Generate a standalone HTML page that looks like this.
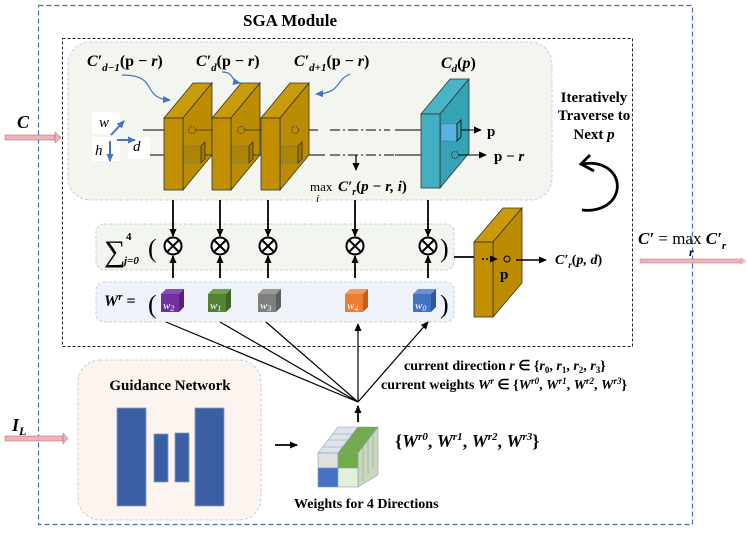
<!DOCTYPE html>
<html><head><meta charset="utf-8"><style>
body{margin:0;background:#fff}
svg text{font-family:"Liberation Serif",serif}
</style></head><body>
<svg width="747" height="530" viewBox="0 0 747 530" xmlns="http://www.w3.org/2000/svg">
<defs>
<marker id="ah" markerWidth="8" markerHeight="8" refX="7" refY="4" orient="auto" markerUnits="userSpaceOnUse"><path d="M0,0.5 L8,4 L0,7.5z" fill="#000"/></marker>
<marker id="bh" markerWidth="8" markerHeight="8" refX="7" refY="4" orient="auto" markerUnits="userSpaceOnUse"><path d="M0,0.5 L8,4 L0,7.5z" fill="#4472c4"/></marker>
<g id="gold">
<polygon points="0,0 29,-35 48,-35 19,0" fill="#c99a0a" stroke="#333" stroke-width="0.8"/>
<polygon points="19,0 48,-35 48,37 19,72" fill="#bb8c00" stroke="#333" stroke-width="0.8"/>
<rect x="0" y="0" width="19" height="72" fill="#c18f00" stroke="#333" stroke-width="0.8"/>
</g>
</defs>
<rect x="38.5" y="5.5" width="654" height="519" fill="none" stroke="#4a6fb0" stroke-width="1.2" stroke-dasharray="5,3"/>
<text x="290" y="26" font-size="17" font-weight="bold" text-anchor="middle">SGA Module</text>
<rect x="62.5" y="38.5" width="570" height="308" fill="none" stroke="#222" stroke-width="1" stroke-dasharray="3,2"/>
<rect x="68" y="42" width="484" height="158" rx="22" fill="#f3f6ef" stroke="#b8c4d8" stroke-width="0.8" stroke-dasharray="3,2"/>
<rect x="5" y="135" width="50" height="5" fill="#f0b4b8" stroke="#a06070" stroke-width="0.5"/>
<polygon points="55,132 61,137.5 55,143" fill="#f0b4b8" stroke="#a06070" stroke-width="0.5"/>
<text x="17" y="128" font-size="18" font-weight="bold" font-style="italic">C</text>
<rect x="5" y="436" width="58" height="5" fill="#f0b4b8" stroke="#a06070" stroke-width="0.5"/>
<polygon points="63,433 68,438.5 63,444" fill="#f0b4b8" stroke="#a06070" stroke-width="0.5"/>
<text x="12" y="431" font-size="18" font-weight="bold" font-style="italic">I<tspan font-size="12" dy="4">L</tspan></text>
<rect x="92" y="112" width="28" height="22" fill="#fff"/><rect x="92" y="137" width="28" height="24" fill="#fff"/><rect x="128" y="137" width="22" height="22" fill="#fff"/>
<text x="99" y="127" font-size="15" font-style="italic">w</text>
<text x="95" y="155" font-size="15" font-style="italic">h</text>
<text x="133" y="151" font-size="15" font-style="italic">d</text>
<line x1="111" y1="135" x2="124" y2="121" stroke="#4472c4" stroke-width="2" marker-end="url(#bh)"/>
<line x1="117" y1="140" x2="135" y2="140" stroke="#4472c4" stroke-width="2" marker-end="url(#bh)"/>
<line x1="110" y1="141" x2="110" y2="161" stroke="#4472c4" stroke-width="2" marker-end="url(#bh)"/>
<line x1="143" y1="130" x2="164" y2="130" stroke="#000"/>
<line x1="150" y1="155" x2="164" y2="155" stroke="#000"/>
<line x1="294" y1="130" x2="318" y2="130" stroke="#000"/>
<line x1="330" y1="130" x2="390" y2="130" stroke="#000" stroke-dasharray="10,3,2,3"/>
<line x1="395" y1="130" x2="421" y2="130" stroke="#000"/>
<line x1="300" y1="155" x2="325" y2="155" stroke="#000"/>
<line x1="330" y1="155" x2="395" y2="155" stroke="#000" stroke-dasharray="10,3,2,3"/>
<line x1="395" y1="155" x2="421" y2="155" stroke="#000"/>
<use href="#gold" x="164" y="118"/>
<use href="#gold" x="212" y="118"/>
<use href="#gold" x="261" y="118"/>
<g fill="none" stroke="#333" stroke-width="0.8">
<circle cx="192" cy="130" r="3.5" stroke-dasharray="1.5,1"/><line x1="196" y1="130" x2="212" y2="130"/>
<circle cx="241" cy="130" r="3.5" stroke-dasharray="1.5,1"/><line x1="245" y1="130" x2="261" y2="130"/>
<circle cx="295" cy="130" r="3.5" stroke-dasharray="1.5,1"/>
<rect x="185" y="146" width="16" height="17" fill="#b08500" stroke="#5a6fa8" stroke-dasharray="2,1"/><polygon points="201,146 205,142 205,159 201,163" fill="#a07800"/><line x1="205" y1="155" x2="212" y2="155"/>
<rect x="233" y="146" width="16" height="17" fill="#b08500" stroke="#5a6fa8" stroke-dasharray="2,1"/><polygon points="249,146 253,142 253,159 249,163" fill="#a07800"/><line x1="253" y1="155" x2="261" y2="155"/>
<rect x="282" y="146" width="16" height="17" fill="#b08500" stroke="#5a6fa8" stroke-dasharray="2,1"/><polygon points="298,146 302,142 302,159 298,163" fill="#a07800"/>
</g>
<polygon points="421,114 450,79 469,79 440,114" fill="#48b5c7" stroke="#333" stroke-width="0.8"/>
<polygon points="440,114 469,79 469,153 440,188" fill="#36a3b5" stroke="#333" stroke-width="0.8"/>
<rect x="421" y="114" width="19" height="74" fill="#41b0c3" stroke="#333" stroke-width="0.8"/>
<rect x="441" y="124" width="16" height="17" fill="#5ab3e0" stroke="#4472c4" stroke-width="0.8" stroke-dasharray="2,1"/>
<polygon points="457,124 461,120 461,137 457,141" fill="#3aa" stroke="#000" stroke-width="0.8"/>
<circle cx="455" cy="155" r="3.5" fill="none" stroke="#333" stroke-dasharray="1.5,1"/>
<line x1="461" y1="130" x2="481" y2="130" stroke="#000" marker-end="url(#ah)"/>
<line x1="459" y1="155" x2="486" y2="155" stroke="#000" marker-end="url(#ah)"/>
<text x="487" y="136" font-size="15" font-weight="bold">p</text>
<text x="494" y="161" font-size="15" font-weight="bold">p − <tspan font-style="italic">r</tspan></text>
<line x1="356" y1="155" x2="356" y2="170" stroke="#000" stroke-width="1.3" marker-end="url(#ah)"/>
<text x="310" y="191" font-size="13">max</text><text x="316" y="202" font-size="11" font-style="italic">i</text>
<text x="338" y="191" font-size="15" font-weight="bold" font-style="italic">C′<tspan font-size="10" dy="4">r</tspan><tspan dy="-4" font-style="normal">(</tspan>p − r, i<tspan font-style="normal">)</tspan></text>
<text x="87" y="66" font-size="16" font-weight="bold" font-style="italic">C′<tspan font-size="11" dy="5">d−1</tspan><tspan dy="-5" font-style="normal">(p − </tspan>r<tspan font-style="normal">)</tspan></text>
<text x="196" y="66" font-size="16" font-weight="bold" font-style="italic">C′<tspan font-size="11" dy="5">d</tspan><tspan dy="-5" font-style="normal">(p − </tspan>r<tspan font-style="normal">)</tspan></text>
<text x="294" y="66" font-size="16" font-weight="bold" font-style="italic">C′<tspan font-size="11" dy="5">d+1</tspan><tspan dy="-5" font-style="normal">(p − </tspan>r<tspan font-style="normal">)</tspan></text>
<text x="441" y="68" font-size="16" font-weight="bold" font-style="italic">C<tspan font-size="11" dy="4">d</tspan><tspan dy="-4" font-style="normal">(</tspan>p<tspan font-style="normal">)</tspan></text>
<path d="M122,75 C160,75 140,98 170,100" fill="none" stroke="#4472c4" stroke-width="1.2" marker-end="url(#bh)"/>
<path d="M222,72 C235,72 230,81 240,83" fill="none" stroke="#4472c4" stroke-width="1.2" marker-end="url(#bh)"/>
<path d="M350,74 C335,80 342,93 316,94" fill="none" stroke="#4472c4" stroke-width="1.2" marker-end="url(#bh)"/>
<text x="594" y="102" font-size="15" font-weight="bold" text-anchor="middle">Iteratively</text>
<text x="594" y="120" font-size="15" font-weight="bold" text-anchor="middle">Traverse to</text>
<text x="594" y="139" font-size="15" font-weight="bold" text-anchor="middle">Next <tspan font-style="italic">p</tspan></text>
<path d="M583,164 C602,160 620,172 617,190 C614,205 598,212 582,210" fill="none" stroke="#000" stroke-width="2.8"/>
<path d="M590,155 L581,164 L594,171" fill="none" stroke="#000" stroke-width="2.8"/>
<rect x="96" y="224" width="358" height="46" rx="8" fill="#f3f6ef" stroke="#b8c4d8" stroke-width="0.8" stroke-dasharray="3,2"/>
<text x="104" y="261" font-size="30">∑</text>
<text x="126" y="240" font-size="11" font-weight="bold">4</text>
<text x="124" y="264" font-size="11" font-weight="bold" font-style="italic">j=0</text>
<text x="148" y="257" font-size="26">(</text>
<text x="440" y="257" font-size="26">)</text>
<rect x="96" y="282" width="358" height="40" rx="8" fill="#eef3fa" stroke="#b8c4d8" stroke-width="0.8" stroke-dasharray="3,2"/>
<text x="104" y="306" font-size="16" font-weight="bold" font-style="italic">W<tspan font-size="11" dy="-6">r</tspan><tspan dy="6" font-style="normal"> =</tspan></text>
<text x="148" y="313" font-size="26">(</text>
<text x="440" y="313" font-size="26">)</text>
<g stroke="#000" stroke-width="1.8">
<line x1="173" y1="200" x2="173" y2="236" marker-end="url(#ah)"/>
<line x1="220" y1="200" x2="220" y2="236" marker-end="url(#ah)"/>
<line x1="268" y1="200" x2="268" y2="236" marker-end="url(#ah)"/>
<line x1="355" y1="200" x2="355" y2="236" marker-end="url(#ah)"/>
<line x1="428" y1="200" x2="428" y2="236" marker-end="url(#ah)"/>
<line x1="173" y1="278" x2="173" y2="256" marker-end="url(#ah)"/>
<line x1="220" y1="278" x2="220" y2="256" marker-end="url(#ah)"/>
<line x1="268" y1="278" x2="268" y2="256" marker-end="url(#ah)"/>
<line x1="355" y1="278" x2="355" y2="256" marker-end="url(#ah)"/>
<line x1="428" y1="278" x2="428" y2="256" marker-end="url(#ah)"/>
</g>
<g fill="#fff" stroke="#000" stroke-width="2">
<circle cx="173" cy="246" r="8.5"/><circle cx="220" cy="246" r="8.5"/><circle cx="268" cy="246" r="8.5"/><circle cx="355" cy="246" r="8.5"/><circle cx="428" cy="246" r="8.5"/>
</g>
<g stroke="#000" stroke-width="2">
<path d="M167,240 l12,12 M179,240 l-12,12"/><path d="M214,240 l12,12 M226,240 l-12,12"/><path d="M262,240 l12,12 M274,240 l-12,12"/><path d="M349,240 l12,12 M361,240 l-12,12"/><path d="M422,240 l12,12 M434,240 l-12,12"/>
</g>
<g font-size="11" font-style="italic" fill="#fff">
<rect x="161" y="294" width="18" height="18" fill="#7030a0"/><polygon points="161,294 166,289 184,289 179,294" fill="#8a4cb8"/><polygon points="179,294 184,289 184,307 179,312" fill="#562080"/><text x="163" y="309">w<tspan font-size="8" dy="2">2</tspan></text>
<rect x="208" y="294" width="18" height="18" fill="#548235"/><polygon points="208,294 213,289 231,289 226,294" fill="#6fa04a"/><polygon points="226,294 231,289 231,307 226,312" fill="#3e6427"/><text x="210" y="309">w<tspan font-size="8" dy="2">1</tspan></text>
<rect x="258" y="294" width="18" height="18" fill="#7f7f7f"/><polygon points="258,294 263,289 281,289 276,294" fill="#999"/><polygon points="276,294 281,289 281,307 276,312" fill="#5f5f5f"/><text x="260" y="309">w<tspan font-size="8" dy="2">3</tspan></text>
<rect x="345" y="294" width="18" height="18" fill="#ed7d31"/><polygon points="345,294 350,289 368,289 363,294" fill="#f39a5a"/><polygon points="363,294 368,289 368,307 363,312" fill="#c45f1a"/><text x="347" y="309">w<tspan font-size="8" dy="2">4</tspan></text>
<rect x="413" y="294" width="18" height="18" fill="#4472c4"/><polygon points="413,294 418,289 436,289 431,294" fill="#6b90d6"/><polygon points="431,294 436,289 436,307 431,312" fill="#2f55a0"/><text x="415" y="309">w<tspan font-size="8" dy="2">0</tspan></text>
</g>
<line x1="454" y1="257" x2="474" y2="257" stroke="#000" stroke-width="1.8"/>
<polygon points="474,242 503,208 522,208 493,242" fill="#c99a0a" stroke="#333" stroke-width="0.8"/>
<polygon points="493,242 522,208 522,283 493,317" fill="#bb8c00" stroke="#333" stroke-width="0.8"/>
<rect x="474" y="242" width="19" height="75" fill="#c18f00" stroke="#333" stroke-width="0.8"/>
<line x1="482" y1="259" x2="497" y2="259" stroke="#000" stroke-width="1.5" stroke-dasharray="2,2" marker-end="url(#ah)"/>
<circle cx="507" cy="259" r="3" fill="none" stroke="#000"/>
<text x="500" y="279" font-size="15" font-weight="bold">p</text>
<line x1="516" y1="260" x2="546" y2="260" stroke="#000" stroke-width="1.5" marker-end="url(#ah)"/>
<text x="555" y="264" font-size="14" font-weight="bold" font-style="italic">C′<tspan font-size="9" dy="4">r</tspan><tspan dy="-4" font-style="normal">(</tspan>p, d<tspan font-style="normal">)</tspan></text>
<text x="638" y="244" font-size="17" font-weight="bold" font-style="italic">C′ <tspan font-style="normal" font-weight="normal">= max</tspan> C′<tspan font-size="11" dy="5">r</tspan></text>
<text x="689" y="256" font-size="12" font-weight="bold" font-style="italic">r</text>
<rect x="640" y="259" width="101" height="4" fill="#f0b4b8" stroke="#b07080" stroke-width="0.5"/>
<polygon points="741,257 746,261 741,265" fill="#f0b4b8"/>
<g stroke="#000" stroke-width="1.2">
<line x1="358" y1="402" x2="166" y2="322"/>
<line x1="358" y1="402" x2="220" y2="322"/>
<line x1="358" y1="402" x2="266" y2="322"/>
<line x1="358" y1="402" x2="358" y2="324" marker-end="url(#ah)"/>
<line x1="358" y1="402" x2="428" y2="322" marker-end="url(#ah)"/>
<line x1="358" y1="422" x2="358" y2="406" stroke-width="1.8" marker-end="url(#ah)"/>
</g>
<text x="404" y="370" font-size="14" font-weight="bold">current direction <tspan font-style="italic">r</tspan> ∈ {<tspan font-style="italic">r</tspan><tspan font-size="9" dy="3">0</tspan><tspan dy="-3">, </tspan><tspan font-style="italic">r</tspan><tspan font-size="9" dy="3">1</tspan><tspan dy="-3">, </tspan><tspan font-style="italic">r</tspan><tspan font-size="9" dy="3">2</tspan><tspan dy="-3">, </tspan><tspan font-style="italic">r</tspan><tspan font-size="9" dy="3">3</tspan><tspan dy="-3">}</tspan></text>
<text x="381" y="389" font-size="14" font-weight="bold">current weights <tspan font-style="italic">W<tspan font-size="9" dy="-5">r</tspan></tspan><tspan dy="5"> ∈ {</tspan><tspan font-style="italic">W<tspan font-size="9" dy="-5">r0</tspan></tspan><tspan dy="5">, </tspan><tspan font-style="italic">W<tspan font-size="9" dy="-5">r1</tspan></tspan><tspan dy="5">, </tspan><tspan font-style="italic">W<tspan font-size="9" dy="-5">r2</tspan></tspan><tspan dy="5">, </tspan><tspan font-style="italic">W<tspan font-size="9" dy="-5">r3</tspan></tspan><tspan dy="5">}</tspan></text>
<rect x="78" y="360" width="183" height="160" rx="22" fill="#fcf4ee" stroke="#b8c4d8" stroke-width="0.8" stroke-dasharray="3,2"/>
<text x="170" y="390" font-size="15" font-weight="bold" text-anchor="middle">Guidance Network</text>
<g fill="#3a5fa5" stroke="#8a9bb8" stroke-width="0.8">
<rect x="117" y="408" width="29" height="98"/><rect x="154" y="434" width="14" height="48"/><rect x="175" y="433" width="14" height="49"/><rect x="195" y="408" width="29" height="98"/>
</g>
<line x1="275" y1="445" x2="297" y2="445" stroke="#000" stroke-width="1.8" marker-end="url(#ah)"/>
<g stroke="#8a9bb8" stroke-width="0.6">
<polygon points="318,453 338,427 358,427 338,453" fill="#dfe3ec"/>
<polygon points="338,453 358,427 378,427 358,453" fill="#70ad47"/>
<polygon points="358,453 378,427 378,475 358,487" fill="#c9d8b8"/>
<rect x="318" y="453" width="20" height="15" fill="#e0e0e0"/>
<rect x="338" y="453" width="20" height="15" fill="#70ad47"/>
<rect x="318" y="468" width="20" height="19" fill="#4472c4"/>
<rect x="338" y="468" width="20" height="19" fill="#e2efda"/>
<path d="M323,447 h20 M328,440 h20 M333,434 h20 M343,447 h20 M348,440 h20 M353,434 h20 M363,447 v34 M368,440 v34 M373,434 v34"/>
</g>
<text x="395" y="447" font-size="18" font-weight="bold">{<tspan font-style="italic">W<tspan font-size="11" dy="-7">r0</tspan></tspan><tspan dy="7">, </tspan><tspan font-style="italic">W<tspan font-size="11" dy="-7">r1</tspan></tspan><tspan dy="7">, </tspan><tspan font-style="italic">W<tspan font-size="11" dy="-7">r2</tspan></tspan><tspan dy="7">, </tspan><tspan font-style="italic">W<tspan font-size="11" dy="-7">r3</tspan></tspan><tspan dy="7">}</tspan></text>
<text x="294" y="508" font-size="14" font-weight="bold">Weights for 4 Directions</text>
</svg>
</body></html>
